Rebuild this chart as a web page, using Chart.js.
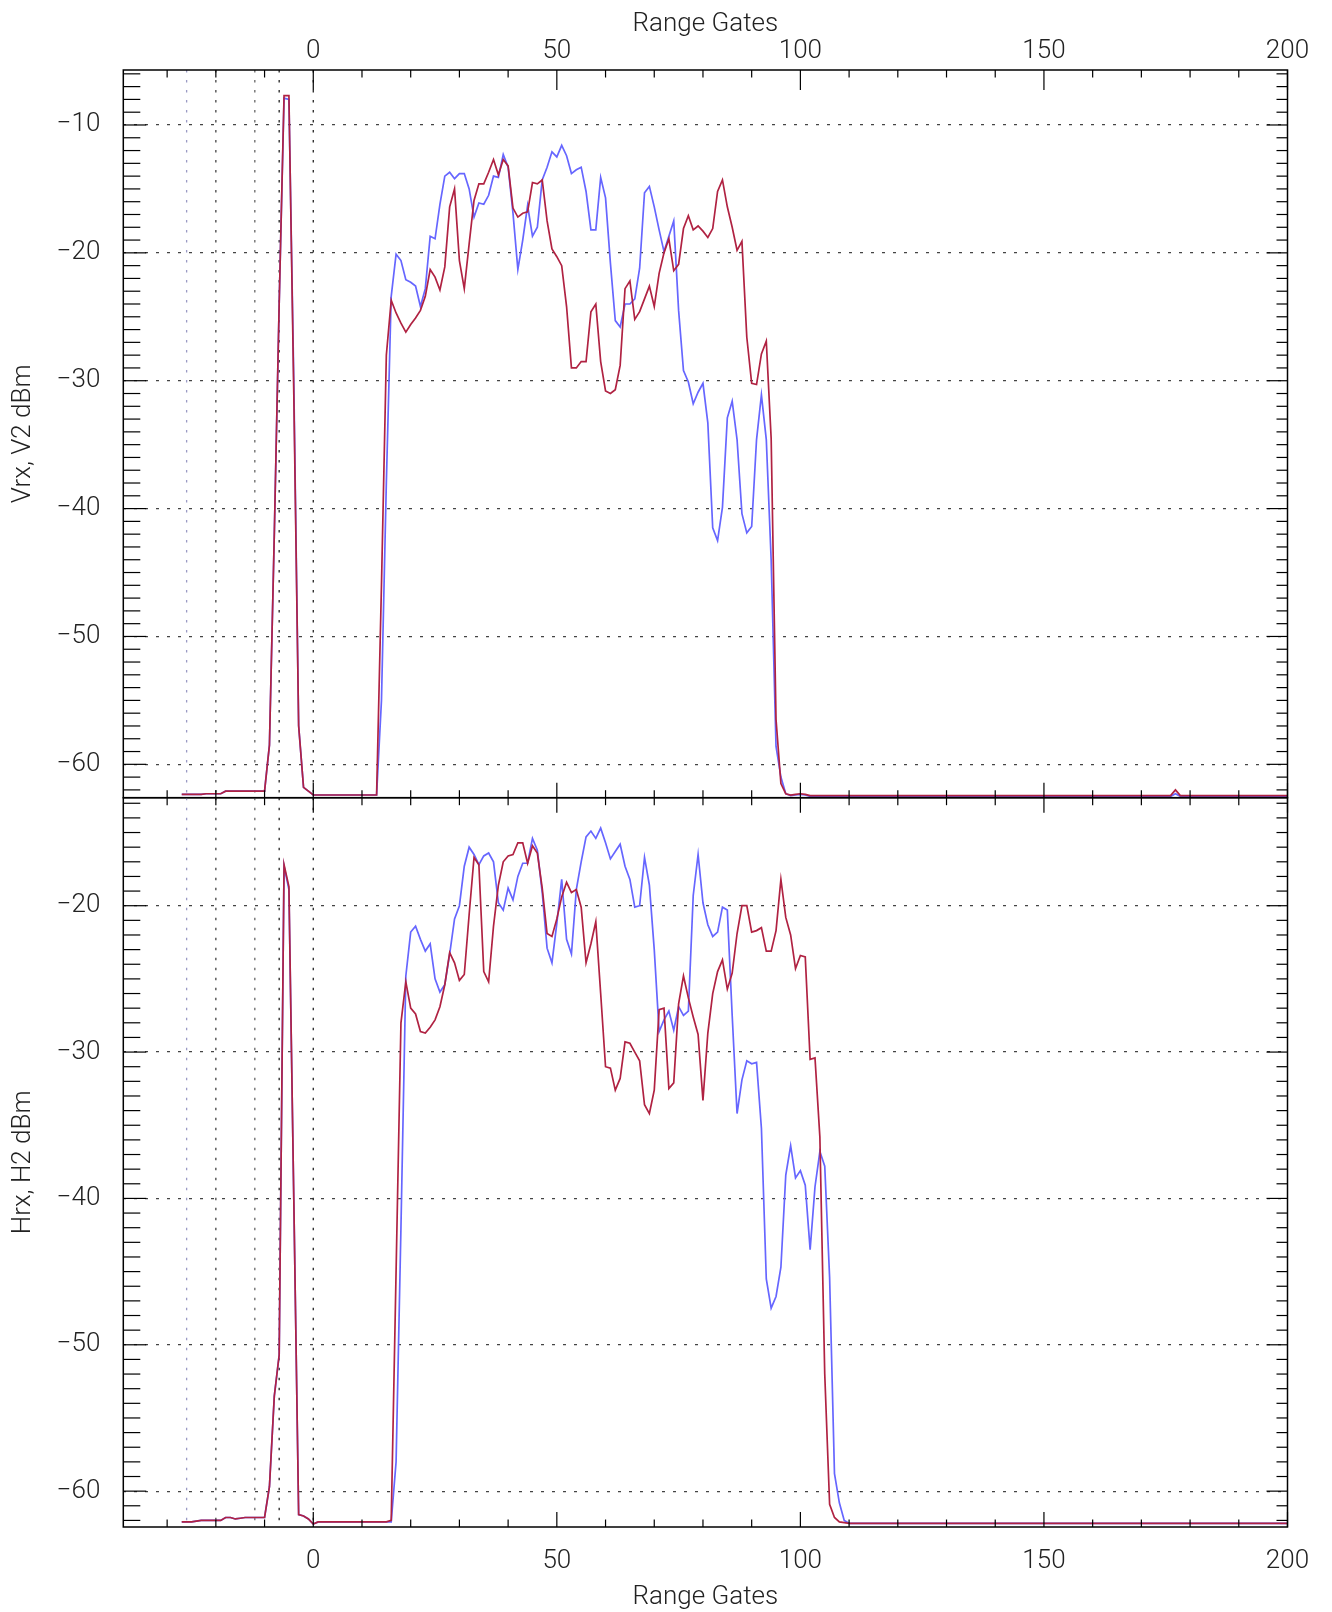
<!DOCTYPE html>
<html>
<head>
<meta charset="utf-8">
<script src="https://cdn.jsdelivr.net/npm/chart.js@4.4.1/dist/chart.umd.min.js"></script>
<style>
  html, body { margin: 0; padding: 0; background: #fff; }
  #wrap { position: relative; width: 1332px; height: 1612px; overflow: hidden; }
  canvas { position: absolute; left: 0; }
  #top { top: 0; }
  #bottom { top: 790px; }
</style>
</head>
<body>
<div id="wrap">
  <canvas id="top" width="1332" height="800"></canvas>
  <canvas id="bottom" width="1332" height="822"></canvas>
</div>
<script>
// range gates (x), dense where the signal is, sparse on the flat tail
const gates = [
  -27, -26, -25, -24, -23, -22, -21, -20, -19, -18,
  -17, -16, -15, -14, -13, -12, -11, -10, -9, -8,
  -7, -6, -5, -4, -3, -2, -1, 0, 1, 2,
  3, 4, 5, 6, 7, 8, 9, 10, 11, 12,
  13, 14, 15, 16, 17, 18, 19, 20, 21, 22,
  23, 24, 25, 26, 27, 28, 29, 30, 31, 32,
  33, 34, 35, 36, 37, 38, 39, 40, 41, 42,
  43, 44, 45, 46, 47, 48, 49, 50, 51, 52,
  53, 54, 55, 56, 57, 58, 59, 60, 61, 62,
  63, 64, 65, 66, 67, 68, 69, 70, 71, 72,
  73, 74, 75, 76, 77, 78, 79, 80, 81, 82,
  83, 84, 85, 86, 87, 88, 89, 90, 91, 92,
  93, 94, 95, 96, 97, 98, 99, 100, 101, 102,
  103, 104, 105, 106, 107, 108, 109, 110,
  115, 120, 125, 130, 135, 140, 145, 150, 155, 160, 165, 170,
  175, 176, 177, 178, 180, 185, 190, 195, 200
];

// top panel, V2 (red)
const v2 = [
  -62.35, -62.35, -62.35, -62.35, -62.35, -62.3, -62.3, -62.3, -62.3, -62.1,
  -62.1, -62.1, -62.1, -62.1, -62.1, -62.1, -62.1, -62.1, -58.5, -42,
  -24, -7.7, -7.7, -31, -57, -61.8, -62.1, -62.4, -62.4, -62.4,
  -62.4, -62.4, -62.4, -62.4, -62.4, -62.4, -62.4, -62.4, -62.4, -62.4,
  -62.4, -46, -28, -23.7, -24.7, -25.5, -26.2, -25.6, -25.1, -24.5,
  -23.4, -21.3, -21.9, -22.9, -21.1, -16.4, -15.0, -20.6, -22.8, -19.3,
  -15.9, -14.6, -14.6, -13.7, -12.7, -13.9, -12.7, -13.2, -16.5, -17.2,
  -16.9, -16.8, -14.5, -14.6, -14.3, -17.5, -19.7, -20.3, -21.0, -24.2,
  -29.0, -29.0, -28.5, -28.5, -24.6, -24.0, -28.5, -30.8, -31.0, -30.7,
  -28.8, -22.8, -22.2, -25.2, -24.6, -23.6, -22.6, -24.2, -21.6, -20.0,
  -18.9, -21.4, -20.9, -18.1, -17.1, -18.2, -17.9, -18.3, -18.8, -18.1,
  -15.2, -14.3, -16.4, -18.0, -19.8, -19.1, -26.6, -30.2, -30.3, -27.9,
  -26.9, -34.5, -56.5, -61.5, -62.3, -62.4, -62.35, -62.3, -62.35, -62.45,
  -62.45, -62.45, -62.45, -62.45, -62.45, -62.45, -62.45, -62.45,
  -62.45, -62.45, -62.45, -62.45, -62.45, -62.45, -62.45, -62.45, -62.45, -62.45, -62.45, -62.45,
  -62.45, -62.45, -62.0, -62.45, -62.45, -62.45, -62.45, -62.45, -62.45
];

// top panel, Vrx (blue)
const vrx = [
  -62.35, -62.35, -62.35, -62.35, -62.35, -62.3, -62.3, -62.3, -62.3, -62.1,
  -62.1, -62.1, -62.1, -62.1, -62.1, -62.1, -62.1, -62.1, -58.5, -42,
  -24, -7.9, -8.0, -30, -57, -61.8, -62.1, -62.4, -62.4, -62.4,
  -62.4, -62.4, -62.4, -62.4, -62.4, -62.4, -62.4, -62.4, -62.4, -62.4,
  -62.4, -55, -38, -23.4, -20.1, -20.6, -22.1, -22.3, -22.6, -24.2,
  -22.8, -18.7, -18.9, -16.2, -14.0, -13.7, -14.2, -13.8, -13.8, -15.0,
  -17.2, -16.1, -16.2, -15.5, -14.0, -14.1, -12.3, -13.3, -16.9, -21.3,
  -19.0, -16.3, -18.7, -18.0, -14.3, -13.3, -12.1, -12.5, -11.6, -12.4,
  -13.8, -13.5, -13.3, -15.2, -18.2, -18.2, -14.1, -15.7, -20.8, -25.3,
  -25.8, -24.0, -24.0, -23.6, -21.2, -15.3, -14.8, -16.4, -18.2, -19.9,
  -18.7, -17.5, -24.5, -29.2, -30.1, -31.8, -30.9, -30.2, -33.3, -41.5,
  -42.5, -39.9, -32.9, -31.6, -34.6, -40.4, -41.9, -41.4, -34.6, -31.1,
  -34.6, -44.0, -58.6, -61.0, -62.3, -62.45, -62.4, -62.35, -62.4, -62.5,
  -62.5, -62.5, -62.5, -62.5, -62.5, -62.5, -62.5, -62.5,
  -62.5, -62.5, -62.5, -62.5, -62.5, -62.5, -62.5, -62.5, -62.5, -62.5, -62.5, -62.5,
  -62.5, -62.5, -62.3, -62.5, -62.5, -62.5, -62.5, -62.5, -62.5
];

// bottom panel, H2 (red)
const h2 = [
  -62.1, -62.1, -62.1, -62.05, -62.0, -62.0, -62.0, -62.0, -62.0, -61.8,
  -61.8, -61.9, -61.85, -61.8, -61.8, -61.8, -61.8, -61.8, -59.7, -53.5,
  -50.7, -17.2, -18.7, -40, -61.6, -61.7, -61.9, -62.25, -62.1, -62.1,
  -62.1, -62.1, -62.1, -62.1, -62.1, -62.1, -62.1, -62.1, -62.1, -62.1,
  -62.1, -62.1, -62.1, -62.0, -45, -28.0, -25.2, -27.0, -27.4, -28.6,
  -28.7, -28.3, -27.8, -26.9, -25.4, -23.2, -23.9, -25.1, -24.7, -20.6,
  -16.7, -17.2, -24.5, -25.2, -21.4, -18.6, -17.0, -16.6, -16.5, -15.7,
  -15.7, -17.1, -15.9, -16.4, -18.8, -21.9, -22.1, -20.9, -19.4, -18.4,
  -19.1, -18.9, -20.1, -23.9, -22.6, -21.1, -26.0, -31.0, -31.1, -32.6,
  -31.8, -29.3, -29.4, -30.0, -30.6, -33.6, -34.2, -32.6, -27.1, -27.0,
  -32.5, -32.1, -26.7, -24.8, -26.3, -27.6, -28.8, -33.3, -28.7, -26.0,
  -24.5, -23.7, -25.7, -24.6, -21.9, -20.0, -20.0, -21.8, -21.7, -21.5,
  -23.1, -23.1, -21.7, -18.2, -20.8, -22.0, -24.3, -23.4, -23.5, -30.5,
  -30.4, -35.8, -52.0, -60.9, -61.8, -62.1, -62.15, -62.2,
  -62.2, -62.2, -62.2, -62.2, -62.2, -62.2, -62.2, -62.2, -62.2, -62.2, -62.2, -62.2,
  -62.2, -62.2, -62.2, -62.2, -62.2, -62.2, -62.2, -62.2, -62.2
];

// bottom panel, Hrx (blue)
const hrx = [
  -62.1, -62.1, -62.1, -62.05, -62.0, -62.0, -62.0, -62.0, -62.0, -61.8,
  -61.8, -61.9, -61.85, -61.8, -61.8, -61.8, -61.8, -61.8, -59.7, -53.5,
  -50.7, -17.3, -18.9, -40, -61.6, -61.7, -61.9, -62.25, -62.1, -62.1,
  -62.1, -62.1, -62.1, -62.1, -62.1, -62.1, -62.1, -62.1, -62.1, -62.1,
  -62.1, -62.1, -62.1, -62.1, -58, -42, -24.8, -21.8, -21.4, -22.3,
  -23.1, -22.6, -25.0, -25.9, -25.4, -23.3, -20.9, -20.0, -17.3, -16.0,
  -16.5, -17.2, -16.6, -16.4, -17.0, -19.8, -20.3, -18.8, -19.6, -18.0,
  -17.1, -17.1, -15.4, -16.2, -19.1, -22.9, -23.9, -21.2, -18.2, -22.3,
  -23.3, -18.9, -17.0, -15.3, -14.9, -15.4, -14.7, -15.7, -16.8, -16.3,
  -15.8, -17.3, -18.2, -20.1, -20.0, -16.7, -18.6, -23.0, -28.6, -27.8,
  -27.2, -28.5, -26.9, -27.5, -27.2, -19.3, -16.5, -19.8, -21.3, -22.1,
  -21.8, -20.1, -20.3, -27.5, -34.2, -31.9, -30.6, -30.8, -30.7, -35.2,
  -45.5, -47.5, -46.7, -44.7, -38.4, -36.4, -38.6, -38.1, -39.1, -43.5,
  -39.2, -36.8, -37.8, -45.4, -58.8, -60.8, -62.0, -62.2,
  -62.2, -62.2, -62.2, -62.2, -62.2, -62.2, -62.2, -62.2, -62.2, -62.2, -62.2, -62.2,
  -62.2, -62.2, -62.2, -62.2, -62.2, -62.2, -62.2, -62.2, -62.2
];

// dotted reference gates
const markerGates = [-26, -20, -12, -7, 0];
const xTickLabels = [0, 50, 100, 150, 200];
const yTickLabels = [-10, -20, -30, -40, -50, -60];

const RED = 'rgb(176, 34, 66)';
const BLUE = 'rgb(102, 102, 255)';
const INK = '#222';
const FONT = "Roboto, 'DejaVu Sans', sans-serif";
const markerColors = ['#9a9ac4', '#444', '#666', '#222', '#222'];

function line(ctx, x1, y1, x2, y2) {
  ctx.beginPath();
  ctx.moveTo(x1, y1);
  ctx.lineTo(x2, y2);
  ctx.stroke();
}

const framePlugin = {
  id: 'frame',
  beforeDatasetsDraw(chart) {
    const { ctx, chartArea: a, scales: { x } } = chart;
    ctx.save();
    ctx.lineWidth = 1.3;
    ctx.setLineDash([2.5, 7.5]);
    markerGates.forEach((g, i) => {
      const px = x.getPixelForValue(g);
      ctx.strokeStyle = markerColors[i];
      line(ctx, px, a.top, px, a.bottom);
    });
    ctx.restore();
  },
  afterDatasetsDraw(chart, args, o) {
    const { ctx, chartArea: a, scales: { x, y } } = chart;
    ctx.save();
    ctx.strokeStyle = '#000';
    ctx.lineWidth = 1.5;
    ctx.strokeRect(a.left, a.top, a.right - a.left, a.bottom - a.top);
    ctx.lineWidth = 1.2;
    x.ticks.forEach(t => {
      const px = x.getPixelForValue(t.value);
      const major = t.value % 50 === 0;
      line(ctx, px, a.top, px, a.top + (major ? o.topMajor : 7.5));
      line(ctx, px, a.bottom, px, a.bottom - (major ? o.bottomMajor : 7.5));
    });
    y.ticks.forEach(t => {
      const py = y.getPixelForValue(t.value);
      const major = t.value % 10 === 0;
      line(ctx, a.left, py, a.left + (major ? 23 : 17), py);
      line(ctx, a.right, py, a.right - (major ? 21 : 11), py);
    });
    ctx.restore();
  }
};

function panel(id, cfg) {
  const font = { family: FONT, size: 26, weight: 300, lineHeight: 1 };
  return new Chart(document.getElementById(id), {
    type: 'line',
    data: {
      datasets: [
        { label: cfg.redLabel, data: gates.map((g, i) => ({ x: g, y: cfg.red[i] })),
          borderColor: RED, borderWidth: 1.7, pointRadius: 0, tension: 0, order: 0 },
        { label: cfg.blueLabel, data: gates.map((g, i) => ({ x: g, y: cfg.blue[i] })),
          borderColor: BLUE, borderWidth: 1.7, pointRadius: 0, tension: 0, order: 1 }
      ]
    },
    options: {
      responsive: false,
      animation: false,
      devicePixelRatio: 1,
      layout: { padding: cfg.padding, autoPadding: false },
      plugins: {
        legend: { display: false },
        tooltip: { enabled: false },
        frame: { topMajor: cfg.topMajor, bottomMajor: cfg.bottomMajor }
      },
      scales: {
        x: {
          type: 'linear', position: cfg.xPos, min: -39, max: 200,
          ticks: {
            stepSize: 10, includeBounds: false, autoSkip: false, maxRotation: 0,
            padding: cfg.xPad, color: INK, font,
            callback: v => xTickLabels.includes(v) ? String(v) : ''
          },
          grid: { display: false, drawTicks: false },
          border: { display: false },
          title: { display: true, text: 'Range Gates', color: INK, font, padding: cfg.xTitlePad },
          afterFit: s => { s.height = cfg.xHeight; s.paddingLeft = 0; s.paddingRight = 0; }
        },
        y: {
          type: 'linear', position: 'left', min: cfg.yMin, max: cfg.yMax,
          ticks: {
            stepSize: 1, includeBounds: false, autoSkip: false, padding: 23, color: INK, font,
            callback: v => yTickLabels.includes(v) ? '\u2212' + Math.abs(v) : ''
          },
          grid: {
            drawTicks: false, lineWidth: 1.2,
            color: c => (c.tick && yTickLabels.includes(c.tick.value)) ? '#444' : 'rgba(0,0,0,0)'
          },
          border: { display: false, dash: [3, 8] },
          title: { display: true, text: cfg.yTitle, color: INK, font, padding: { top: 10, bottom: 0 } },
          afterFit: s => { s.width = 123.3; s.paddingTop = 0; s.paddingBottom = 0; }
        }
      }
    },
    plugins: [framePlugin]
  });
}

panel('top', {
  red: v2, blue: vrx, redLabel: 'V2', blueLabel: 'Vrx',
  yTitle: 'Vrx, V2 dBm', yMin: -62.61, yMax: -5.70,
  xPos: 'top', xHeight: 70, xPad: 5.5, xTitlePad: { top: 11, bottom: 0 },
  padding: { left: 0, right: 44.5, top: 0, bottom: 2.3 },
  topMajor: 20, bottomMajor: 15
});

panel('bottom', {
  red: h2, blue: hrx, redLabel: 'H2', blueLabel: 'Hrx',
  yTitle: 'Hrx, H2 dBm', yMin: -62.45, yMax: -12.62,
  xPos: 'bottom', xHeight: 85, xPad: 21, xTitlePad: { top: 0, bottom: 2 },
  padding: { left: 0, right: 44.5, top: 7.7, bottom: 0 },
  topMajor: 15, bottomMajor: 15
});
</script>
</body>
</html>
